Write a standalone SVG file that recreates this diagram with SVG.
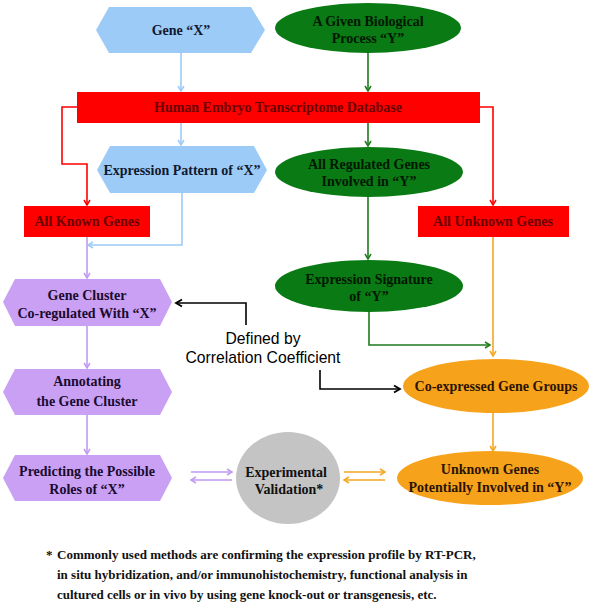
<svg xmlns="http://www.w3.org/2000/svg" width="593" height="614" viewBox="0 0 593 614">
<defs>
<style>
.t{font-family:"Liberation Serif","Times New Roman",serif;font-weight:bold;font-size:14px;text-anchor:middle}
.s{font-family:"Liberation Sans",Arial,sans-serif;font-size:15.7px;text-anchor:middle;fill:#000}
.f{font-family:"Liberation Serif","Times New Roman",serif;font-weight:bold;font-size:13px;fill:#111}
.c{fill:none;stroke-width:1.6}
.blue{fill:#9DCBF7}
.green{fill:#0A7A14}
.red{fill:#FF0000}
.purple{fill:#C9A0F3}
.orange{fill:#F7A21B}
.gray{fill:#C4C4C4}
</style>
<marker id="mb" markerWidth="8" markerHeight="8" refX="6" refY="4" orient="auto" markerUnits="userSpaceOnUse"><path d="M1,1 L6,4 L1,7" fill="none" stroke="#9DCBF7" stroke-width="1.5"/></marker>
<marker id="mg" markerWidth="8" markerHeight="8" refX="6" refY="4" orient="auto" markerUnits="userSpaceOnUse"><path d="M1,1 L6,4 L1,7" fill="none" stroke="#1E7B1E" stroke-width="1.5"/></marker>
<marker id="mr" markerWidth="8" markerHeight="8" refX="6" refY="4" orient="auto" markerUnits="userSpaceOnUse"><path d="M1,1 L6,4 L1,7" fill="none" stroke="#FF0000" stroke-width="1.5"/></marker>
<marker id="mp" markerWidth="8" markerHeight="8" refX="6" refY="4" orient="auto" markerUnits="userSpaceOnUse"><path d="M1,1 L6,4 L1,7" fill="none" stroke="#C09AF0" stroke-width="1.5"/></marker>
<marker id="mo" markerWidth="8" markerHeight="8" refX="6" refY="4" orient="auto" markerUnits="userSpaceOnUse"><path d="M1,1 L6,4 L1,7" fill="none" stroke="#F5A623" stroke-width="1.5"/></marker>
<marker id="mk" markerWidth="10" markerHeight="10" refX="7" refY="5" orient="auto" markerUnits="userSpaceOnUse"><path d="M1,1.5 L7,5 L1,8.5" fill="none" stroke="#000" stroke-width="1.8"/></marker>
</defs>

<g id="connectors">
<line class="c" x1="181" y1="53" x2="181" y2="91" stroke="#9DCBF7" marker-end="url(#mb)"/>
<line class="c" x1="368" y1="53" x2="368" y2="91" stroke="#1E7B1E" marker-end="url(#mg)"/>
<line class="c" x1="181" y1="123" x2="181" y2="145" stroke="#9DCBF7" marker-end="url(#mb)"/>
<line class="c" x1="368" y1="123" x2="368" y2="146" stroke="#1E7B1E" marker-end="url(#mg)"/>
<polyline class="c" points="77,107 62,107 62,164 87,164 87,205" stroke="#FF0000" marker-end="url(#mr)"/>
<polyline class="c" points="480,107 493,107 493,205" stroke="#FF0000" marker-end="url(#mr)"/>
<polyline class="c" points="182,193 182,245 88,245" stroke="#9DCBF7" marker-end="url(#mb)"/>
<line class="c" x1="87" y1="237" x2="87" y2="278" stroke="#C09AF0" marker-end="url(#mp)"/>
<line class="c" x1="368" y1="197" x2="368" y2="259" stroke="#1E7B1E" marker-end="url(#mg)"/>
<polyline class="c" points="369,311 369,345 490,345" stroke="#1E7B1E" marker-end="url(#mg)"/>
<line class="c" x1="493" y1="237" x2="493" y2="356" stroke="#F5A623" marker-end="url(#mo)"/>
<polyline class="c" points="246,325 246,303 176,303" stroke="#000" stroke-width="1.8" marker-end="url(#mk)"/>
<polyline class="c" points="320,370 320,389 400,389" stroke="#000" stroke-width="1.8" marker-end="url(#mk)"/>
<line class="c" x1="87" y1="326" x2="87" y2="368" stroke="#C09AF0" marker-end="url(#mp)"/>
<line class="c" x1="87" y1="415" x2="87" y2="454" stroke="#C09AF0" marker-end="url(#mp)"/>
<line class="c" x1="493" y1="413" x2="493" y2="451" stroke="#F5A623" marker-end="url(#mo)"/>
<line class="c" x1="191" y1="472" x2="232" y2="472" stroke="#C09AF0" marker-end="url(#mp)"/>
<line class="c" x1="232" y1="480" x2="191" y2="480" stroke="#C09AF0" marker-end="url(#mp)"/>
<line class="c" x1="344" y1="472" x2="385" y2="472" stroke="#F5A623" marker-end="url(#mo)"/>
<line class="c" x1="385" y1="480" x2="344" y2="480" stroke="#F5A623" marker-end="url(#mo)"/>
</g>

<g id="gene-x">
<polygon class="blue" points="96,30 109,7 251,7 265,30 251,53 109,53"/>
<text class="t" x="181" y="35" fill="#101830">Gene “X”</text>
</g>

<g id="process-y">
<ellipse class="green" cx="368" cy="28" rx="93" ry="25"/>
<text class="t" x="368" y="26" fill="#001800">A Given Biological</text>
<text class="t" x="368" y="43" fill="#001800">Process “Y”</text>
</g>

<g id="database">
<rect class="red" x="77" y="92" width="403" height="31"/>
<text class="t" x="278" y="112" fill="#6A0000">Human Embryo Transcriptome Database</text>
</g>

<g id="expression-pattern">
<polygon class="blue" points="97,170 110,146 254,146 267,170 254,193 110,193"/>
<text class="t" x="182" y="175" fill="#101830">Expression Pattern of “X”</text>
</g>

<g id="regulated-genes">
<ellipse class="green" cx="369" cy="172" rx="94" ry="25"/>
<text class="t" x="369" y="169" fill="#001800">All Regulated Genes</text>
<text class="t" x="369" y="186" fill="#001800">Involved in “Y”</text>
</g>

<g id="known-genes">
<rect class="red" x="24" y="206" width="126" height="31"/>
<text class="t" x="87" y="226" fill="#6A0000">All Known Genes</text>
</g>

<g id="unknown-genes">
<rect class="red" x="418" y="206" width="151" height="31"/>
<text class="t" x="493" y="226" fill="#6A0000">All Unknown Genes</text>
</g>

<g id="gene-cluster">
<polygon class="purple" points="3,302 15,279 160,279 172,302 160,326 15,326"/>
<text class="t" x="87" y="300" fill="#1A0A30">Gene Cluster</text>
<text class="t" x="87" y="318" fill="#1A0A30">Co-regulated With “X”</text>
</g>

<g id="expression-signature">
<ellipse class="green" cx="369" cy="286" rx="94" ry="26"/>
<text class="t" x="369" y="284" fill="#001800">Expression Signature</text>
<text class="t" x="369" y="301" fill="#001800">of “Y”</text>
</g>

<g id="correlation-label">
<text class="s" x="263" y="344">Defined by</text>
<text class="s" x="263" y="363">Correlation Coefficient</text>
</g>

<g id="co-expressed">
<ellipse class="orange" cx="496" cy="386" rx="93" ry="27"/>
<text class="t" x="496" y="391" fill="#2A1400">Co-expressed Gene Groups</text>
</g>

<g id="annotating">
<polygon class="purple" points="3,392 15,369 160,369 172,392 160,415 15,415"/>
<text class="t" x="87" y="386" fill="#1A0A30">Annotating</text>
<text class="t" x="87" y="406" fill="#1A0A30">the Gene Cluster</text>
</g>

<g id="predicting">
<polygon class="purple" points="3,478 15,455 160,455 172,478 160,501 15,501"/>
<text class="t" x="87" y="476" fill="#1A0A30">Predicting the Possible</text>
<text class="t" x="87" y="494" fill="#1A0A30">Roles of “X”</text>
</g>

<g id="validation">
<ellipse class="gray" cx="288" cy="478" rx="52" ry="46"/>
<text class="t" x="286" y="477" fill="#111">Experimental</text>
<text class="t" x="289" y="494" fill="#111">Validation*</text>
</g>

<g id="unknown-involved">
<ellipse class="orange" cx="490" cy="478" rx="93" ry="27"/>
<text class="t" x="490" y="474" fill="#2A1400">Unknown Genes</text>
<text class="t" x="490" y="492" fill="#2A1400">Potentially Involved in “Y”</text>
</g>

<g id="footnote">
<text class="f" x="46" y="559">*</text>
<text class="f" x="57" y="559">Commonly used methods are confirming the expression profile by RT-PCR,</text>
<text class="f" x="57" y="579">in situ hybridization, and/or immunohistochemistry, functional analysis in</text>
<text class="f" x="57" y="599">cultured cells or in vivo by using gene knock-out or transgenesis, etc.</text>
</g>
</svg>
